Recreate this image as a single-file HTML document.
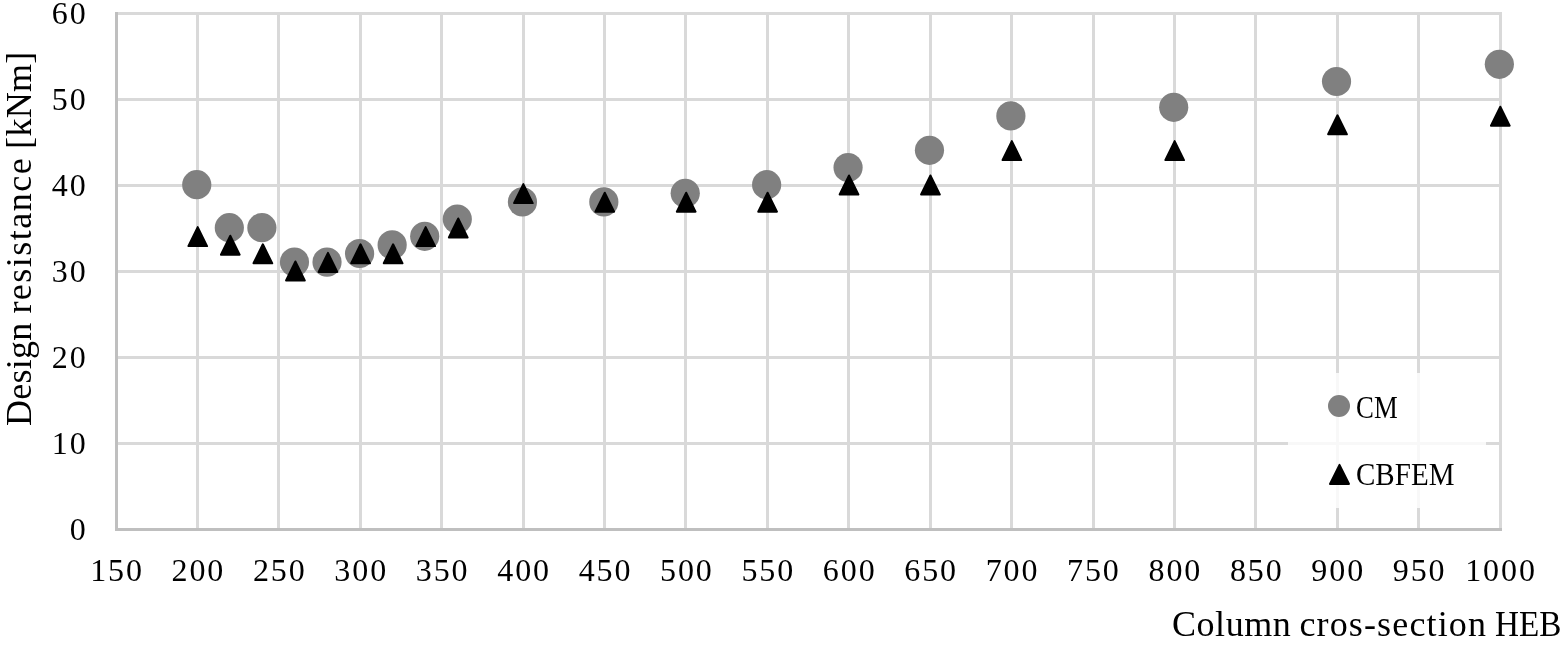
<!DOCTYPE html><html><head><meta charset="utf-8"><style>html,body{margin:0;padding:0;background:#fff;width:1566px;height:649px;overflow:hidden}svg{display:block;will-change:transform}text{font-family:"Liberation Serif",serif;fill:#000}</style></head><body>
<svg width="1566" height="649" viewBox="0 0 1566 649">
<rect width="1566" height="649" fill="#fff"/>
<path d="M197.5 12V530M278.5 12V530M360.5 12V530M441.5 12V530M523.5 12V530M604.5 12V530M685.5 12V530M767.5 12V530M848.5 12V530M930.5 12V530M1011.5 12V530M1093.5 12V530M1174.5 12V530M1255.5 12V530M1337.5 12V530M1418.5 12V530M1500.5 12V530M115 443.5H1502M115 357.5H1502M115 271.5H1502M115 185.5H1502M115 99.5H1502M115 13.5H1502" stroke="#d9d9d9" stroke-width="3" fill="none"/>
<path d="M116.5 12V531M115 529.5H1502" stroke="#bfbfbf" stroke-width="3" fill="none"/>
<circle cx="196.76" cy="184.70" r="14.6" fill="#808080"/>
<circle cx="229.33" cy="227.70" r="14.6" fill="#808080"/>
<circle cx="261.89" cy="227.70" r="14.6" fill="#808080"/>
<circle cx="294.46" cy="262.10" r="14.6" fill="#808080"/>
<circle cx="327.02" cy="262.10" r="14.6" fill="#808080"/>
<circle cx="359.59" cy="253.50" r="14.6" fill="#808080"/>
<circle cx="392.15" cy="244.90" r="14.6" fill="#808080"/>
<circle cx="424.71" cy="236.30" r="14.6" fill="#808080"/>
<circle cx="457.28" cy="219.10" r="14.6" fill="#808080"/>
<circle cx="522.41" cy="201.90" r="14.6" fill="#808080"/>
<circle cx="603.82" cy="201.90" r="14.6" fill="#808080"/>
<circle cx="685.23" cy="193.30" r="14.6" fill="#808080"/>
<circle cx="766.64" cy="184.70" r="14.6" fill="#808080"/>
<circle cx="848.06" cy="167.50" r="14.6" fill="#808080"/>
<circle cx="929.47" cy="150.30" r="14.6" fill="#808080"/>
<circle cx="1010.88" cy="115.90" r="14.6" fill="#808080"/>
<circle cx="1173.70" cy="107.30" r="14.6" fill="#808080"/>
<circle cx="1336.53" cy="81.50" r="14.6" fill="#808080"/>
<circle cx="1499.35" cy="64.30" r="14.6" fill="#808080"/>
<path d="M197.71 227.10L207.06 246.10L188.36 246.10ZM230.28 235.70L239.63 254.70L220.93 254.70ZM262.84 244.30L272.19 263.30L253.49 263.30ZM295.41 261.50L304.76 280.50L286.06 280.50ZM327.97 252.90L337.32 271.90L318.62 271.90ZM360.54 244.30L369.89 263.30L351.19 263.30ZM393.10 244.30L402.45 263.30L383.75 263.30ZM425.66 227.10L435.01 246.10L416.31 246.10ZM458.23 218.50L467.58 237.50L448.88 237.50ZM523.36 184.10L532.71 203.10L514.01 203.10ZM604.77 192.70L614.12 211.70L595.42 211.70ZM686.18 192.70L695.53 211.70L676.83 211.70ZM767.59 192.70L776.94 211.70L758.24 211.70ZM849.01 175.50L858.36 194.50L839.66 194.50ZM930.42 175.50L939.77 194.50L921.07 194.50ZM1011.83 141.10L1021.18 160.10L1002.48 160.10ZM1174.65 141.10L1184.00 160.10L1165.30 160.10ZM1337.48 115.30L1346.83 134.30L1328.13 134.30ZM1500.30 106.70L1509.65 125.70L1490.95 125.70Z" fill="#000" stroke="#000" stroke-width="2" stroke-linejoin="round"/>
<rect x="1288" y="373" width="198" height="135" fill="#fff" fill-opacity="0.8"/>
<circle cx="1339" cy="406" r="11" fill="#808080"/>
<path d="M1339.50 464.90L1349.00 483.90L1330.00 483.90Z" fill="#000" stroke="#000" stroke-width="2" stroke-linejoin="round"/>
<text x="1356.1" y="418.5" font-size="32" transform="translate(1356.1 0) scale(0.837 1) translate(-1356.1 0)">CM</text>
<text x="1356" y="485.3" font-size="32" transform="translate(1356 0) scale(0.908 1) translate(-1356 0)">CBFEM</text>
<text x="87.6" y="540.1" font-size="32" text-anchor="end" letter-spacing="1.9">0</text>
<text x="87.6" y="454.1" font-size="32" text-anchor="end" letter-spacing="1.9">10</text>
<text x="87.6" y="368.1" font-size="32" text-anchor="end" letter-spacing="1.9">20</text>
<text x="87.6" y="282.1" font-size="32" text-anchor="end" letter-spacing="1.9">30</text>
<text x="87.6" y="196.1" font-size="32" text-anchor="end" letter-spacing="1.9">40</text>
<text x="87.6" y="110.1" font-size="32" text-anchor="end" letter-spacing="1.9">50</text>
<text x="87.6" y="24.1" font-size="32" text-anchor="end" letter-spacing="1.9">60</text>
<text x="117.0" y="580.6" font-size="32" text-anchor="middle" letter-spacing="1.9">150</text>
<text x="198.4" y="580.6" font-size="32" text-anchor="middle" letter-spacing="1.9">200</text>
<text x="279.8" y="580.6" font-size="32" text-anchor="middle" letter-spacing="1.9">250</text>
<text x="361.2" y="580.6" font-size="32" text-anchor="middle" letter-spacing="1.9">300</text>
<text x="442.6" y="580.6" font-size="32" text-anchor="middle" letter-spacing="1.9">350</text>
<text x="524.1" y="580.6" font-size="32" text-anchor="middle" letter-spacing="1.9">400</text>
<text x="605.5" y="580.6" font-size="32" text-anchor="middle" letter-spacing="1.9">450</text>
<text x="686.9" y="580.6" font-size="32" text-anchor="middle" letter-spacing="1.9">500</text>
<text x="768.3" y="580.6" font-size="32" text-anchor="middle" letter-spacing="1.9">550</text>
<text x="849.7" y="580.6" font-size="32" text-anchor="middle" letter-spacing="1.9">600</text>
<text x="931.1" y="580.6" font-size="32" text-anchor="middle" letter-spacing="1.9">650</text>
<text x="1012.5" y="580.6" font-size="32" text-anchor="middle" letter-spacing="1.9">700</text>
<text x="1093.9" y="580.6" font-size="32" text-anchor="middle" letter-spacing="1.9">750</text>
<text x="1175.4" y="580.6" font-size="32" text-anchor="middle" letter-spacing="1.9">800</text>
<text x="1256.8" y="580.6" font-size="32" text-anchor="middle" letter-spacing="1.9">850</text>
<text x="1338.2" y="580.6" font-size="32" text-anchor="middle" letter-spacing="1.9">900</text>
<text x="1419.6" y="580.6" font-size="32" text-anchor="middle" letter-spacing="1.9">950</text>
<text x="1501.0" y="580.6" font-size="32" text-anchor="middle" letter-spacing="1.9">1000</text>
<text x="1171.9" y="636" font-size="36" letter-spacing="0.58">Column</text>
<text x="1299.4" y="636" font-size="36" letter-spacing="1.15">cros-section</text>
<text x="1495" y="636" font-size="36" transform="translate(1495 0) scale(0.922 1) translate(-1495 0)">HEB</text>
<text transform="translate(31 425.9) rotate(-90)" x="0" y="0" font-size="36" letter-spacing="0.24">Design</text>
<text transform="translate(31 313.6) rotate(-90)" x="0" y="0" font-size="36" letter-spacing="1.48">resistance</text>
<text transform="translate(31 148.9) rotate(-90)" x="0" y="0" font-size="36" letter-spacing="0.3">[kNm]</text>
</svg></body></html>
